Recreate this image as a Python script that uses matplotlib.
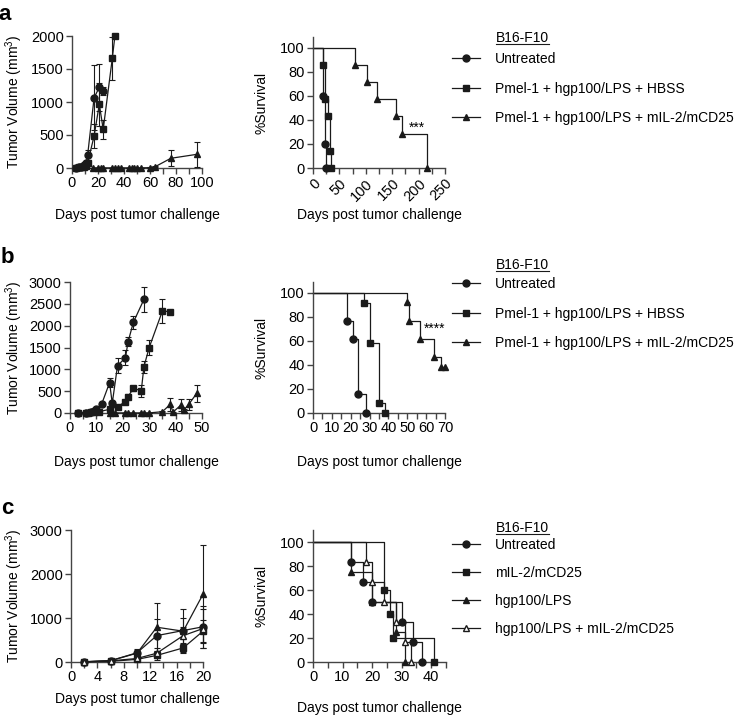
import numpy as np
import matplotlib.pyplot as plt
from matplotlib.lines import Line2D

plt.rcParams['font.family'] = ['Liberation Sans', 'DejaVu Sans']
plt.rcParams['mathtext.default'] = 'regular'
plt.rcParams['font.size'] = 10

# ---- tumour growth data (mean, SEM) ----
days_a_unt = [3, 5, 7, 9, 11, 12, 17, 21, 24]
vol_a_unt = [5, 8, 20, 40, 70, 190, 1065, 1222, 1172]
sem_a_unt = [3, 4, 8, 15, 30, 80, 490, 360, 60]
days_a_hbss = [3, 5, 7, 9, 11, 12, 17, 21, 24, 31, 33]
vol_a_hbss = [5, 8, 12, 20, 35, 75, 485, 965, 586, 1662, 2000]
sem_a_hbss = [3, 4, 6, 10, 15, 40, 180, 330, 140, 330, 0]
days_a_il2 = [16, 20, 22, 24, 31, 33, 35, 38, 44, 46, 48, 50, 53, 60, 64, 76, 96]
vol_a_il2 = [2, 2, 2, 2, 2, 2, 2, 2, 2, 2, 2, 2, 2, 5, 20, 147, 207]
sem_a_il2 = [1, 1, 1, 1, 1, 1, 1, 1, 1, 1, 1, 1, 1, 3, 10, 120, 190]

days_b_unt = [3, 6, 8, 9, 10, 12, 15, 16, 18, 21, 22, 24, 28]
vol_b_unt = [5, 10, 20, 40, 85, 206, 695, 222, 1083, 1266, 1630, 2077, 2600]
sem_b_unt = [3, 5, 8, 15, 30, 40, 110, 60, 170, 170, 100, 150, 290]
days_b_hbss = [3, 6, 7, 8, 9, 11, 15, 18, 21, 22, 24, 27, 28, 30, 35, 38]
vol_b_hbss = [5, 8, 10, 15, 20, 30, 85, 145, 260, 375, 565, 510, 1060, 1500, 2335, 2320]
sem_b_hbss = [3, 4, 5, 6, 8, 10, 20, 30, 40, 50, 50, 140, 140, 180, 280, 0]
days_b_il2 = [15, 17, 21, 22, 24, 27, 28, 30, 35, 38, 39, 42, 43, 45, 48]
vol_b_il2 = [2, 2, 2, 2, 2, 2, 2, 2, 30, 200, 20, 180, 60, 200, 450]
sem_b_il2 = [1, 1, 1, 1, 1, 1, 1, 1, 10, 150, 10, 130, 30, 130, 200]

days_c = [2, 6, 10, 13, 17, 20]
vol_c_unt = [5, 30, 210, 600, 715, 800]
sem_c_unt = [3, 20, 90, 380, 480, 480]
vol_c_il2 = [5, 15, 60, 150, 320, 700]
sem_c_il2 = [3, 10, 30, 100, 120, 250]
vol_c_hgp = [5, 30, 200, 790, 700, 1540]
sem_c_hgp = [3, 20, 80, 540, 300, 1110]
vol_c_combo = [5, 25, 80, 200, 600, 760]
sem_c_combo = [3, 15, 40, 120, 200, 450]

# ---- survival data (event day, % survival) ----
surv_a_unt_t, surv_a_unt = [18, 22, 25], [60, 20, 0]
surv_a_hbss_t, surv_a_hbss = [18, 23, 28, 32, 34], [85.7, 57.1, 42.9, 14.3, 0]
surv_a_il2_t, surv_a_il2 = [80, 102, 122, 158, 169, 215], [85.7, 71.4, 57.1, 42.9, 28.6, 0]

surv_b_unt_t, surv_b_unt = [18, 21, 24, 28], [76.9, 61.5, 15.4, 0]
surv_b_hbss_t, surv_b_hbss = [27, 30, 35, 38], [91.7, 58.3, 8.3, 0]
surv_b_il2_t, surv_b_il2 = [50, 51, 57, 64, 68, 70], [92.3, 76.9, 61.5, 46.2, 38.5, 38.5]

surv_c_unt_t, surv_c_unt = [13, 17, 20, 30, 34, 37], [83.3, 66.7, 50, 33.3, 16.7, 0]
surv_c_il2_t, surv_c_il2 = [24, 26, 27, 41], [60, 40, 20, 0]
surv_c_hgp_t, surv_c_hgp = [13, 20, 28, 31], [75, 50, 25, 0]
surv_c_combo_t, surv_c_combo = [18, 20, 24, 28, 31, 33], [83.3, 66.7, 50, 33.3, 16.7, 0]

labels_ab = ['Untreated', 'Pmel-1 + hgp100/LPS + HBSS', 'Pmel-1 + hgp100/LPS + mIL-2/mCD25']
labels_c = ['Untreated', 'mIL-2/mCD25', 'hgp100/LPS', 'hgp100/LPS + mIL-2/mCD25']

W, H = 738, 716
fig = plt.figure(figsize=(W / 100, H / 100), dpi=100)
LC = '#1a1a1a'
AX = '#444444'


def add_ax(left, top, right, bottom):
    return fig.add_axes([left / W, 1 - bottom / H, (right - left) / W, (bottom - top) / H])


def style(ax):
    for s in ['top', 'right']:
        ax.spines[s].set_visible(False)
    for s in ['left', 'bottom']:
        ax.spines[s].set_color(AX)
        ax.spines[s].set_linewidth(1)
    ax.tick_params(which='both', direction='out', length=4, width=1, color=AX, labelsize=10.5, pad=2)
    ax.tick_params(axis='y', which='minor', left=False)


def growth(ax, x, y, e, marker, fc=LC):
    ax.errorbar(x, y, yerr=e, fmt='-' + marker, color=LC, mfc=fc, mec=LC, ms=5, lw=0.9,
                elinewidth=0.8, capsize=2, capthick=0.8, clip_on=False, zorder=3)


def km(ax, t, s, marker, fc=LC):
    ax.step([0] + t, [100] + s, where='post', color=LC, lw=0.9, clip_on=False)
    ax.plot(t, s, linestyle='none', marker=marker, color=LC, mfc=fc, ms=5, clip_on=False, zorder=3)


def xlabel_at(ax, top, bottom, center_px):
    ax.set_xlabel('Days post tumor challenge', fontsize=10)
    ax.xaxis.label.set_va('center')
    ax.xaxis.set_label_coords(0.5, -(center_px - bottom) / (bottom - top))


def ylabel_at(ax, left, right, center_px, text):
    ax.set_ylabel(text, fontsize=10)
    ax.yaxis.label.set_va('center')
    ax.yaxis.set_label_coords(-(left - center_px) / (right - left), 0.5)


def legend_at(ax, handles, labels, x_px, y_px, spacing):
    ax.legend(handles, labels, loc='upper left', bbox_to_anchor=(x_px / W, 1 - y_px / H),
              bbox_transform=fig.transFigure, frameon=False, borderpad=0, borderaxespad=0,
              handlelength=2.0, handletextpad=1.1, labelspacing=spacing, fontsize=10)


def h(marker, fc=LC):
    return Line2D([], [], color=LC, lw=0.9, marker=marker, mfc=fc, ms=5)


# ---------------- panel a ----------------
ax = add_ax(72, 36, 202, 168)
style(ax)
growth(ax, days_a_unt, vol_a_unt, sem_a_unt, 'o')
growth(ax, days_a_hbss, vol_a_hbss, sem_a_hbss, 's')
growth(ax, days_a_il2, vol_a_il2, sem_a_il2, '^')
ax.set_xlim(0, 100)
ax.set_ylim(0, 2000)
ax.set_xticks(np.arange(0, 101, 20))
ax.set_xticks(np.arange(0, 101, 10), minor=True)
ax.set_yticks(np.arange(0, 2001, 500))
xlabel_at(ax, 36, 168, 215)
ylabel_at(ax, 72, 202, 14, 'Tumor Volume (mm$^{3}$)')

ax = add_ax(313, 37, 445, 168)
style(ax)
km(ax, surv_a_unt_t, surv_a_unt, 'o')
km(ax, surv_a_hbss_t, surv_a_hbss, 's')
km(ax, surv_a_il2_t, surv_a_il2, '^')
ax.text(197, 28, '***', ha='center', va='bottom', fontsize=10)
ax.set_xlim(0, 250)
ax.set_ylim(0, 109)
ax.set_xticks(np.arange(0, 251, 50))
ax.set_xticks(np.arange(0, 251, 25), minor=True)
ax.set_yticks(np.arange(0, 101, 20))
for lab in ax.get_xticklabels():
    lab.set_rotation(45)
    lab.set_ha('right')
    lab.set_va('top')
    lab.set_rotation_mode('anchor')
xlabel_at(ax, 37, 168, 215)
ylabel_at(ax, 313, 445, 262, '%Survival')
legend_at(ax, [h('o'), h('s'), h('^')], labels_ab, 452, 52, 1.12)

# ---------------- panel b ----------------
ax = add_ax(70, 282, 202, 413)
style(ax)
growth(ax, days_b_unt, vol_b_unt, sem_b_unt, 'o')
growth(ax, days_b_hbss, vol_b_hbss, sem_b_hbss, 's')
growth(ax, days_b_il2, vol_b_il2, sem_b_il2, '^')
ax.set_xlim(0, 50)
ax.set_ylim(0, 3000)
ax.set_xticks(np.arange(0, 51, 10))
ax.set_xticks(np.arange(0, 51, 5), minor=True)
ax.set_yticks(np.arange(0, 3001, 500))
xlabel_at(ax, 282, 413, 462)
ylabel_at(ax, 70, 202, 14, 'Tumor Volume (mm$^{3}$)')

ax = add_ax(313, 282, 445, 413)
style(ax)
km(ax, surv_b_unt_t, surv_b_unt, 'o')
km(ax, surv_b_hbss_t, surv_b_hbss, 's')
km(ax, surv_b_il2_t, surv_b_il2, '^')
ax.text(64.5, 64, '****', ha='center', va='bottom', fontsize=10)
ax.set_xlim(0, 70)
ax.set_ylim(0, 109)
ax.set_xticks(np.arange(0, 71, 10))
ax.set_xticks(np.arange(0, 71, 5), minor=True)
ax.set_yticks(np.arange(0, 101, 20))
xlabel_at(ax, 282, 413, 462)
ylabel_at(ax, 313, 445, 262, '%Survival')
legend_at(ax, [h('o'), h('s'), h('^')], labels_ab, 452, 277, 1.12)

# ---------------- panel c ----------------
ax = add_ax(71, 530, 203, 662)
style(ax)
growth(ax, days_c, vol_c_unt, sem_c_unt, 'o')
growth(ax, days_c, vol_c_il2, sem_c_il2, 's')
growth(ax, days_c, vol_c_hgp, sem_c_hgp, '^')
growth(ax, days_c, vol_c_combo, sem_c_combo, '^', fc='white')
ax.set_xlim(0, 20)
ax.set_ylim(0, 3000)
ax.set_xticks(np.arange(0, 21, 4))
ax.set_xticks(np.arange(0, 21, 2), minor=True)
ax.set_yticks(np.arange(0, 3001, 1000))
xlabel_at(ax, 530, 662, 699)
ylabel_at(ax, 71, 203, 14, 'Tumor Volume (mm$^{3}$)')

ax = add_ax(313, 530, 446, 662)
style(ax)
km(ax, surv_c_unt_t, surv_c_unt, 'o')
km(ax, surv_c_il2_t, surv_c_il2, 's')
km(ax, surv_c_hgp_t, surv_c_hgp, '^')
km(ax, surv_c_combo_t, surv_c_combo, '^', fc='white')
ax.set_xlim(0, 45)
ax.set_ylim(0, 110)
ax.set_xticks(np.arange(0, 41, 10))
ax.set_xticks(np.arange(0, 46, 5), minor=True)
ax.set_yticks(np.arange(0, 101, 20))
xlabel_at(ax, 530, 662, 708)
ylabel_at(ax, 313, 446, 262, '%Survival')
legend_at(ax, [h('o'), h('s'), h('^'), h('^', 'white')], labels_c, 452, 538, 1.0)

# legend titles (underlined) and panel letters
titles = []
for y in [38, 265, 528]:
    titles.append(fig.text(496 / W, 1 - y / H, 'B16-F10', ha='left', va='center', fontsize=10))
for letter, x, y in [('a', 5, 15), ('b', 7, 257), ('c', 7, 508)]:
    fig.text(x / W, 1 - y / H, letter, ha='center', va='center', fontsize=16, fontweight='bold')

fig.canvas.draw()
r = fig.canvas.get_renderer()
for t in titles:
    bb = t.get_window_extent(r)
    yy = bb.y0 + 1
    fig.add_artist(Line2D([bb.x0 / W, bb.x1 / W], [yy / H, yy / H], color=LC, lw=0.8))

fig.savefig('out.png', dpi=100)
